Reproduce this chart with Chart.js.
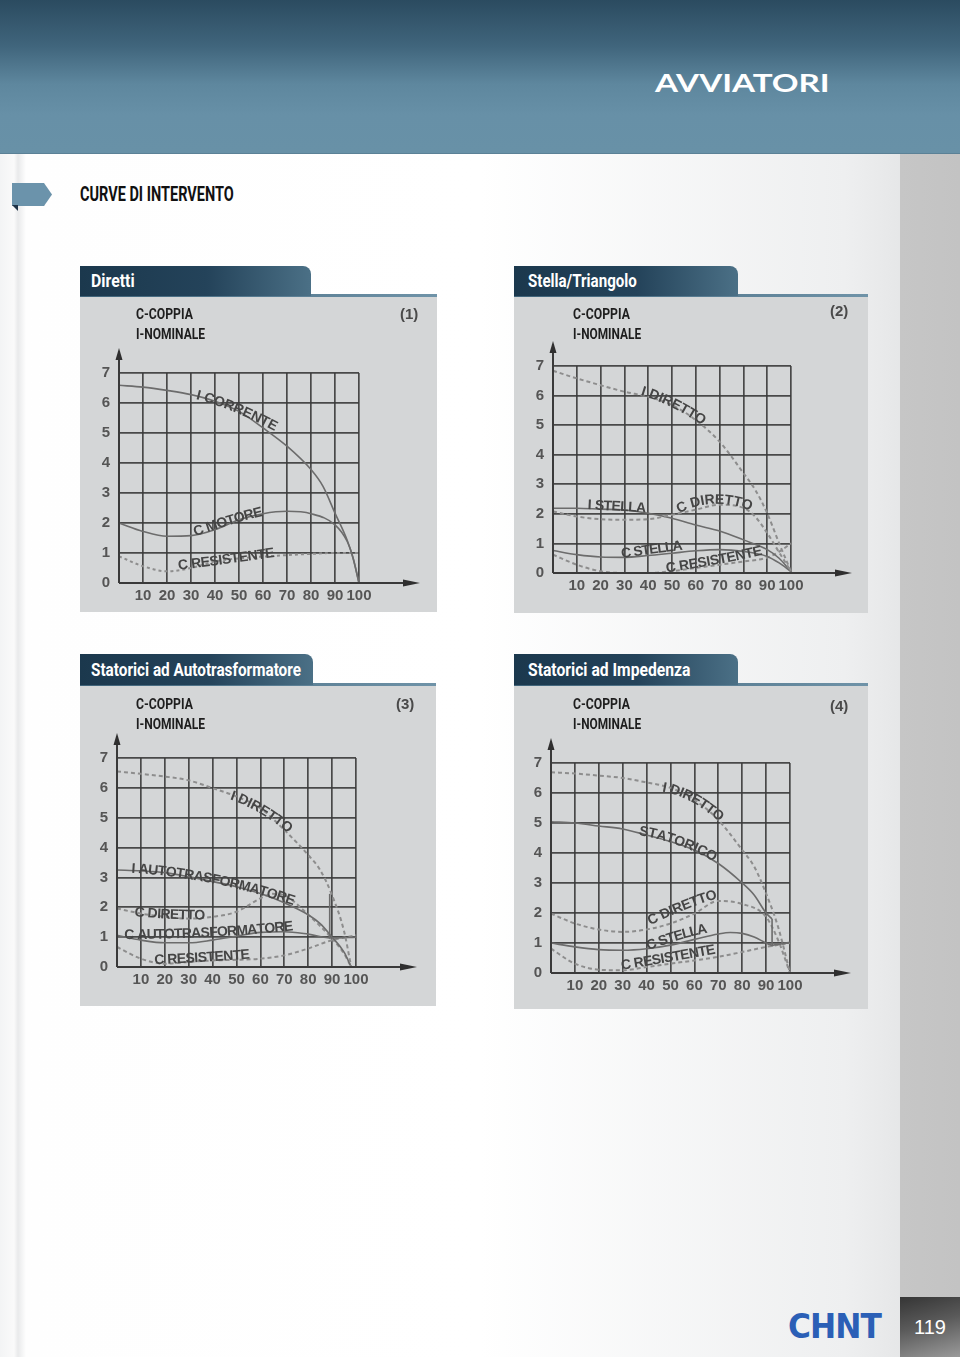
<!DOCTYPE html>
<html>
<head>
<meta charset="utf-8">
<script src="https://cdn.jsdelivr.net/npm/chart.js@4.4.1/dist/chart.umd.min.js"></script>
<style>
  html, body { margin: 0; padding: 0; }
  body { width: 960px; height: 1357px; overflow: hidden; background: #fff; }
  #page { position: relative; width: 960px; height: 1357px;
    background: linear-gradient(to right, #f3f4f5 0px, #fafafa 14px, #e9eaeb 18px, #fefefe 26px, #ffffff 50%, #eeeff0 88%, #e6e7e8 900px, #c6c6c6 900px, #c3c3c3 960px); }
  .abs { position: absolute; }
  #header { left: 0; top: 0; width: 960px; height: 153px;
    background: linear-gradient(to bottom, #2b4b60 0%, #40657c 30%, #5e879e 55%, #6790a7 75%, #6891a7 100%);
    border-bottom: 1px solid #5b8196; }
  .txt { position: absolute; white-space: nowrap; line-height: 1; transform-origin: 0 0; }
  .cond { font-family: Roboto, "Liberation Sans", sans-serif; font-weight: 700; }
  .tab { position: absolute; height: 30px; border-top-right-radius: 8px;
    background: linear-gradient(to right, #1b384d 0%, #24435a 55%, #4b7086 100%); }
  .rule { position: absolute; height: 3px; background: linear-gradient(to right, #3f6379, #6f93a8); }
  .panel { position: absolute; background: #d4d6d7; }
  canvas { position: absolute; }
</style>
</head>
<body>
<div id="page">
  <div id="header" class="abs"></div>
  <div class="txt" data-w="175" style="left:655px; top:67px; font: 700 25px Lato, 'DejaVu Sans', sans-serif; color:#fff;">AVVIATORI</div>

  <div class="abs" style="left:12px; top:183px; width:40px; height:23px; background:#6b93ab; clip-path: polygon(0 0, 80% 0, 100% 50%, 80% 100%, 0 100%); box-shadow: 0 2px 3px rgba(0,0,0,.2);"></div>
  <div class="abs" style="left:12px; top:205px; width:6px; height:6px; background:#1f3347; clip-path: polygon(0 0, 100% 0, 100% 100%);"></div>
  <div class="txt cond" data-w="154" style="left:80px; top:184px; font-size:21px; color:#111;">CURVE DI INTERVENTO</div>

  <!-- panel 1 -->
  <div class="rule" style="left:80px; top:294px; width:357px;"></div>
  <div class="tab" style="left:80px; top:266px; width:231px;"></div>
  <div class="panel" style="left:80px; top:297px; width:357px; height:315px;"></div>
  <div class="txt cond" data-w="44" style="left:91px; top:272px; font-size:18px; color:#fff;">Diretti</div>

  <!-- panel 2 -->
  <div class="rule" style="left:514px; top:294px; width:354px;"></div>
  <div class="tab" style="left:514px; top:266px; width:224px;"></div>
  <div class="panel" style="left:514px; top:297px; width:354px; height:316px;"></div>
  <div class="txt cond" data-w="109" style="left:528px; top:272px; font-size:18px; color:#fff;">Stella/Triangolo</div>

  <!-- panel 3 -->
  <div class="rule" style="left:80px; top:683px; width:356px;"></div>
  <div class="tab" style="left:80px; top:654px; width:233px; height:31px;"></div>
  <div class="panel" style="left:80px; top:686px; width:356px; height:320px;"></div>
  <div class="txt cond" data-w="210" style="left:91px; top:661px; font-size:18px; color:#fff;">Statorici ad Autotrasformatore</div>

  <!-- panel 4 -->
  <div class="rule" style="left:514px; top:683px; width:354px;"></div>
  <div class="tab" style="left:514px; top:654px; width:224px; height:31px;"></div>
  <div class="panel" style="left:514px; top:686px; width:354px; height:323px;"></div>
  <div class="txt cond" data-w="162" style="left:528px; top:661px; font-size:18px; color:#fff;">Statorici ad Impedenza</div>

  <canvas id="chart1" width="357" height="314" style="left:80px; top:298px;"></canvas>
  <canvas id="chart2" width="354" height="315" style="left:514px; top:298px;"></canvas>
  <canvas id="chart3" width="356" height="319" style="left:80px; top:687px;"></canvas>
  <canvas id="chart4" width="354" height="322" style="left:514px; top:687px;"></canvas>

  <div class="txt cond" data-w="57" style="left:136px; top:307px; font-size:15px; color:#1e1e1e;">C-COPPIA</div>
  <div class="txt cond" data-w="69" style="left:136px; top:327px; font-size:15px; color:#1e1e1e;">I-NOMINALE</div>
  <div class="txt" style="left:400px; top:305px; font: bold 15px 'Liberation Sans', Arial, sans-serif; color:#4a4a4a;">(1)</div>

  <div class="txt cond" data-w="57" style="left:573px; top:307px; font-size:15px; color:#1e1e1e;">C-COPPIA</div>
  <div class="txt cond" data-w="68" style="left:573px; top:327px; font-size:15px; color:#1e1e1e;">I-NOMINALE</div>
  <div class="txt" style="left:830px; top:302px; font: bold 15px 'Liberation Sans', Arial, sans-serif; color:#4a4a4a;">(2)</div>

  <div class="txt cond" data-w="57" style="left:136px; top:697px; font-size:15px; color:#1e1e1e;">C-COPPIA</div>
  <div class="txt cond" data-w="69" style="left:136px; top:717px; font-size:15px; color:#1e1e1e;">I-NOMINALE</div>
  <div class="txt" style="left:396px; top:695px; font: bold 15px 'Liberation Sans', Arial, sans-serif; color:#4a4a4a;">(3)</div>

  <div class="txt cond" data-w="57" style="left:573px; top:697px; font-size:15px; color:#1e1e1e;">C-COPPIA</div>
  <div class="txt cond" data-w="68" style="left:573px; top:717px; font-size:15px; color:#1e1e1e;">I-NOMINALE</div>
  <div class="txt" style="left:830px; top:697px; font: bold 15px 'Liberation Sans', Arial, sans-serif; color:#4a4a4a;">(4)</div>

  <!-- footer -->
  <div class="txt" data-w="93" style="left:788px; top:1306px; font: 900 34px 'DejaVu Sans', sans-serif; color:#2b5fb6; letter-spacing:-1px;">CHNT</div>
  <div class="txt" data-w="93" style="left:788px; top:1372px; font: 900 34px 'DejaVu Sans', sans-serif; color:#2b5fb6; letter-spacing:-1px; opacity:.15; transform: scaleY(-0.45);">CHNT</div>
  <div class="abs" style="left:900px; top:1297px; width:60px; height:60px; background: linear-gradient(165deg, #353535 0%, #5a5a5a 45%, #9a9a9a 100%);"></div>
  <div class="txt" style="left:914px; top:1316px; font: 20px 'Liberation Sans', Arial, sans-serif; color:#fff;">119</div>
</div>

<script>
// axis ticks
const xTickLabels = ['', '10', '20', '30', '40', '50', '60', '70', '80', '90', '100'];
const yTickLabels = ['0', '1', '2', '3', '4', '5', '6', '7'];

// (1) Diretti
const dirCorrenteX = [0, 10, 20, 30, 40, 50, 60, 70, 80, 85, 90, 95, 97.5, 100];
const dirCorrenteY = [6.59, 6.53, 6.42, 6.28, 6.06, 5.72, 5.17, 4.56, 3.78, 3.22, 2.33, 1.44, 0.83, 0];
const dirMotoreX = [0, 10, 20, 30, 40, 50, 60, 70, 80, 90, 95, 97.5, 100];
const dirMotoreY = [2.0, 1.72, 1.56, 1.58, 1.78, 2.11, 2.31, 2.39, 2.31, 1.94, 1.4, 0.85, 0];
const dirResistX = [0, 10, 20, 30, 40, 50, 60, 70, 80, 90, 100];
const dirResistY = [0.89, 0.56, 0.39, 0.5, 0.72, 0.82, 0.88, 0.93, 0.97, 1.0, 1.0];

// (2) Stella/Triangolo
const stIDirettoX = [0, 10, 20, 30, 40, 50, 60, 70, 80, 85, 90, 95, 100];
const stIDirettoY = [6.84, 6.58, 6.35, 6.13, 5.96, 5.68, 5.17, 4.44, 3.38, 2.81, 2.02, 1.01, 0.05];
const stCDirettoX = [0, 10, 20, 30, 40, 50, 60, 70, 80, 85, 90, 95, 100];
const stCDirettoY = [2.08, 1.91, 1.82, 1.8, 1.82, 1.97, 2.14, 2.31, 2.2, 1.9, 1.35, 0.7, 0.05];
const stIStellaX = [0, 10, 20, 30, 40, 50, 60, 70, 80, 90, 95, 100];
const stIStellaY = [2.19, 2.19, 2.16, 2.13, 2.02, 1.85, 1.62, 1.42, 1.12, 0.79, 0.5, 0.05];
const stCStellaX = [0, 10, 20, 30, 40, 50, 60, 70, 80, 90, 95, 100];
const stCStellaY = [0.76, 0.62, 0.54, 0.53, 0.59, 0.67, 0.75, 0.79, 0.73, 0.56, 0.34, 0.05];
const stCResistX = [0, 10, 20, 30, 40, 50, 60, 70, 80, 90, 95, 100];
const stCResistY = [0.62, 0.28, 0.06, 0, 0, 0.06, 0.17, 0.28, 0.39, 0.52, 0.72, 1.0];

// (3) Statorici ad Autotrasformatore
const atIDirettoX = [0, 10, 20, 30, 40, 50, 60, 70, 80, 85, 90, 95, 98];
const atIDirettoY = [6.55, 6.47, 6.38, 6.25, 5.99, 5.71, 5.32, 4.59, 3.75, 3.25, 2.4, 1.2, 0];
const atIAutoX = [0, 10, 20, 30, 40, 50, 60, 70, 80, 85, 90, 95, 98];
const atIAutoY = [3.25, 3.22, 3.16, 3.02, 2.86, 2.69, 2.46, 2.15, 1.75, 1.45, 1.0, 0.5, 0];
const atSwitchX = [89, 89];
const atSwitchY = [0.95, 2.45];
const atCDirettoX = [0, 10, 20, 30, 40, 50, 60, 65, 70, 80, 90, 95, 98];
const atCDirettoY = [1.96, 1.79, 1.68, 1.62, 1.68, 1.85, 2.3, 2.45, 2.4, 1.75, 0.95, 0.45, 0];
const atCAutoX = [0, 10, 20, 30, 40, 50, 60, 70, 80, 90, 100];
const atCAutoY = [1.06, 0.9, 0.81, 0.81, 0.9, 1.03, 1.16, 1.18, 1.1, 0.97, 1.0];
const atCResistX = [0, 10, 20, 30, 40, 50, 60, 70, 80, 90, 100];
const atCResistY = [0.67, 0.28, 0.11, 0.17, 0.22, 0.24, 0.28, 0.39, 0.62, 0.9, 1.06];

// (4) Statorici ad Impedenza
const imIDirettoX = [0, 10, 20, 30, 40, 50, 60, 70, 80, 85, 90, 95, 100];
const imIDirettoY = [6.69, 6.65, 6.58, 6.5, 6.35, 6.17, 5.77, 5.1, 4.1, 3.55, 2.65, 1.54, 0];
const imStatX = [0, 10, 20, 30, 40, 50, 60, 70, 80, 85, 90, 92.5];
const imStatY = [5.04, 5.0, 4.9, 4.8, 4.6, 4.38, 4.1, 3.65, 3.0, 2.6, 2.0, 1.8];
const imSwitchX = [92.5, 92.5, 100];
const imSwitchY = [1.8, 0.92, 1.02];
const imCDirettoX = [0, 10, 20, 30, 40, 50, 60, 70, 80, 90, 95, 100];
const imCDirettoY = [1.98, 1.65, 1.45, 1.37, 1.45, 1.65, 1.98, 2.4, 2.3, 1.87, 1.1, 0];
const imCStellaX = [0, 10, 20, 30, 40, 50, 60, 70, 75, 80, 85, 90, 93];
const imCStellaY = [1.0, 0.87, 0.78, 0.76, 0.81, 0.93, 1.12, 1.3, 1.35, 1.32, 1.2, 1.0, 0.9];
const imCResistX = [0, 10, 20, 30, 40, 50, 60, 70, 80, 90, 100];
const imCResistY = [0.81, 0.31, 0.11, 0.09, 0.2, 0.31, 0.42, 0.54, 0.7, 0.87, 1.0];

// curve names written along the curves: text + start / middle / end (data units)
const labels1 = [
  { text: 'I CORRENTE', pts: [[32, 6.13], [47.5, 5.72], [64.9, 5.06]] },
  { text: 'C MOTORE', pts: [[31.9, 1.56], [46.1, 1.94], [60, 2.24]] },
  { text: 'C RESISTENTE', pts: [[24.9, 0.44], [44.7, 0.64], [64.9, 0.87]] }
];
const labels2 = [
  { text: 'I DIRETTO', pts: [[36.8, 6.02], [49.4, 5.62], [62.8, 5.0]] },
  { text: 'I STELLA', pts: [[14.6, 2.16], [26.3, 2.11], [38.9, 2.05]] },
  { text: 'C DIRETTO', pts: [[52.9, 2.02], [67.7, 2.34], [83.1, 2.11]] },
  { text: 'C STELLA', pts: [[29.1, 0.51], [41.7, 0.65], [54.4, 0.79]] },
  { text: 'C RESISTENTE', pts: [[47.8, 0.02], [67.7, 0.28], [88.1, 0.62]] }
];
const labels3 = [
  { text: 'I DIRETTO', pts: [[47.2, 5.62], [59.8, 5.15], [71.6, 4.48]] },
  { text: 'I AUTOTRASFORMATORE', pts: [[6.0, 3.16], [40.2, 2.8], [73.7, 2.07]] },
  { text: 'C DIRETTO', pts: [[7.4, 1.7], [22.1, 1.62], [36.7, 1.59]] },
  { text: 'C AUTOTRASFORMATORE', pts: [[3.2, 0.94], [38.1, 1.01], [73.7, 1.23]] },
  { text: 'C RESISTENTE', pts: [[15.8, 0.09], [35.3, 0.17], [55.6, 0.28]] }
];
const labels4 = [
  { text: 'I DIRETTO', pts: [[46.5, 6.05], [58.4, 5.72], [70.3, 5.05]] },
  { text: 'STATORICO', pts: [[36.7, 4.6], [52.8, 4.27], [68.2, 3.71]] },
  { text: 'C DIRETTO', pts: [[41.6, 1.59], [55.6, 2.1], [69.6, 2.49]] },
  { text: 'C STELLA', pts: [[40.9, 0.76], [52.8, 1.09], [65.4, 1.34]] },
  { text: 'C RESISTENTE', pts: [[29.7, 0.11], [49.3, 0.37], [68.9, 0.65]] }
];

function series(xs, ys, dashed, straight) {
  return {
    data: xs.map((x, i) => ({ x: x, y: ys[i] })),
    borderColor: dashed ? '#8d8d8d' : '#6c6c6c',
    borderWidth: dashed ? 2 : 1.6,
    borderDash: dashed ? [4, 3] : [],
    pointRadius: 0,
    fill: false,
    clip: 6,
    cubicInterpolationMode: straight ? 'default' : 'monotone',
    tension: 0
  };
}

// letters placed one by one on a quadratic through the three label points
const curveText = {
  id: 'curveText',
  afterDatasetsDraw(chart, args, opts) {
    const ctx = chart.ctx;
    const xs = chart.scales.x, ys = chart.scales.y;
    ctx.save();
    ctx.font = 'bold 14px "Liberation Sans", Arial, sans-serif';
    ctx.fillStyle = '#454545';
    ctx.textBaseline = 'alphabetic';
    for (const lab of opts.items || []) {
      const p = lab.pts.map(([a, b]) => [xs.getPixelForValue(a), ys.getPixelForValue(b)]);
      const c = [2 * p[1][0] - (p[0][0] + p[2][0]) / 2, 2 * p[1][1] - (p[0][1] + p[2][1]) / 2];
      const at = t => [
        (1 - t) * (1 - t) * p[0][0] + 2 * (1 - t) * t * c[0] + t * t * p[2][0],
        (1 - t) * (1 - t) * p[0][1] + 2 * (1 - t) * t * c[1] + t * t * p[2][1]
      ];
      const N = 80;
      const lens = [0];
      let prev = at(0), len = 0;
      for (let i = 1; i <= N; i++) {
        const q = at(i / N);
        len += Math.hypot(q[0] - prev[0], q[1] - prev[1]);
        lens.push(len);
        prev = q;
      }
      const chars = [...lab.text];
      const widths = chars.map(ch => ctx.measureText(ch).width);
      const total = widths.reduce((s, w) => s + w, 0);
      const k = len / total;
      let acc = 0;
      chars.forEach((ch, i) => {
        const s = (acc + widths[i] / 2) * k;
        acc += widths[i];
        let j = 1;
        while (j < N && lens[j] < s) j++;
        const t = (j - 1 + (s - lens[j - 1]) / Math.max(lens[j] - lens[j - 1], 1e-6)) / N;
        const q = at(t), q2 = at(Math.min(t + 0.01, 1)), q1 = at(Math.max(t - 0.01, 0));
        const ang = Math.atan2(q2[1] - q1[1], q2[0] - q1[0]);
        ctx.save();
        ctx.translate(q[0], q[1]);
        ctx.rotate(ang);
        ctx.fillText(ch, -widths[i] / 2, 0);
        ctx.restore();
      });
    }
    ctx.restore();
  }
};

// axes with arrow heads
const axisArrows = {
  id: 'axisArrows',
  afterDraw(chart) {
    const ctx = chart.ctx;
    const { left, right, top, bottom } = chart.chartArea;
    const xEnd = right + 61, yEnd = top - 25;
    ctx.save();
    ctx.strokeStyle = '#3a3a3a';
    ctx.fillStyle = '#2f2f2f';
    ctx.lineWidth = 2;
    ctx.beginPath();
    ctx.moveTo(left, bottom);
    ctx.lineTo(xEnd - 10, bottom);
    ctx.moveTo(left, bottom);
    ctx.lineTo(left, yEnd + 8);
    ctx.stroke();
    ctx.beginPath();
    ctx.moveTo(xEnd, bottom);
    ctx.lineTo(xEnd - 17, bottom - 3.5);
    ctx.lineTo(xEnd - 17, bottom + 3.5);
    ctx.closePath();
    ctx.fill();
    ctx.beginPath();
    ctx.moveTo(left, yEnd);
    ctx.lineTo(left - 3.5, yEnd + 12);
    ctx.lineTo(left + 3.5, yEnd + 12);
    ctx.closePath();
    ctx.fill();
    ctx.restore();
  }
};

function makeChart(id, datasets, items, box) {
  const tickFont = { family: '"Liberation Sans", Arial, sans-serif', size: 15, weight: 'bold' };
  return new Chart(document.getElementById(id), {
    type: 'line',
    data: { datasets: datasets },
    options: {
      responsive: false,
      animation: false,
      events: [],
      layout: { padding: { left: 0, top: box.top, right: box.right, bottom: box.bottom } },
      plugins: { legend: { display: false }, tooltip: { enabled: false }, curveText: { items: items } },
      scales: {
        x: {
          type: 'linear', min: 0, max: 100,
          ticks: { stepSize: 10, autoSkip: false, maxRotation: 0, padding: 4, color: '#555', font: tickFont,
            callback: (v, i) => xTickLabels[i] },
          grid: { color: 'rgba(58,58,58,0.9)', lineWidth: 1.7, drawTicks: false },
          border: { display: false },
          afterFit: s => { s.height = 26; }
        },
        y: {
          min: 0, max: 7,
          ticks: { stepSize: 1, padding: 9, color: '#555', font: tickFont,
            callback: (v, i) => yTickLabels[i] },
          grid: { color: 'rgba(58,58,58,0.9)', lineWidth: 1.7, drawTicks: false },
          border: { display: false },
          afterFit: s => { s.width = box.left; }
        }
      }
    },
    plugins: [axisArrows, curveText]
  });
}

makeChart('chart1', [
  series(dirCorrenteX, dirCorrenteY, false),
  series(dirMotoreX, dirMotoreY, false),
  Object.assign(series(dirResistX, dirResistY, true), { borderDash: [3, 3] })
], labels1, { left: 39, top: 75, right: 78, bottom: 3 });

makeChart('chart2', [
  series(stIDirettoX, stIDirettoY, true),
  series(stCDirettoX, stCDirettoY, true),
  series(stIStellaX, stIStellaY, false),
  series(stCStellaX, stCStellaY, false),
  series(stCResistX, stCResistY, true)
], labels2, { left: 39, top: 68, right: 77, bottom: 14 });

makeChart('chart3', [
  series(atIDirettoX, atIDirettoY, true),
  series(atIAutoX, atIAutoY, false),
  series(atSwitchX, atSwitchY, false, true),
  series(atCDirettoX, atCDirettoY, true),
  series(atCAutoX, atCAutoY, false),
  series(atCResistX, atCResistY, true)
], labels3, { left: 37, top: 71, right: 80, bottom: 13 });

makeChart('chart4', [
  series(imIDirettoX, imIDirettoY, true),
  series(imStatX, imStatY, false),
  series(imSwitchX, imSwitchY, false, true),
  series(imCDirettoX, imCDirettoY, true),
  series(imCStellaX, imCStellaY, false),
  series(imCResistX, imCResistY, true)
], labels4, { left: 37, top: 76, right: 78, bottom: 10 });

// squeeze the condensed headings to the widths they have on the page
function fitTexts() {
  document.querySelectorAll('[data-w]').forEach(el => {
    const w = +el.dataset.w;
    const base = el.style.transform.replace(/scaleX\([^)]*\)/, '').trim();
    el.style.transform = base;
    const natural = el.offsetWidth;
    el.style.transform = (base + ' scaleX(' + (w / natural).toFixed(4) + ')').trim();
  });
}
fitTexts();
if (document.fonts) document.fonts.ready.then(fitTexts);
</script>
</body>
</html>
